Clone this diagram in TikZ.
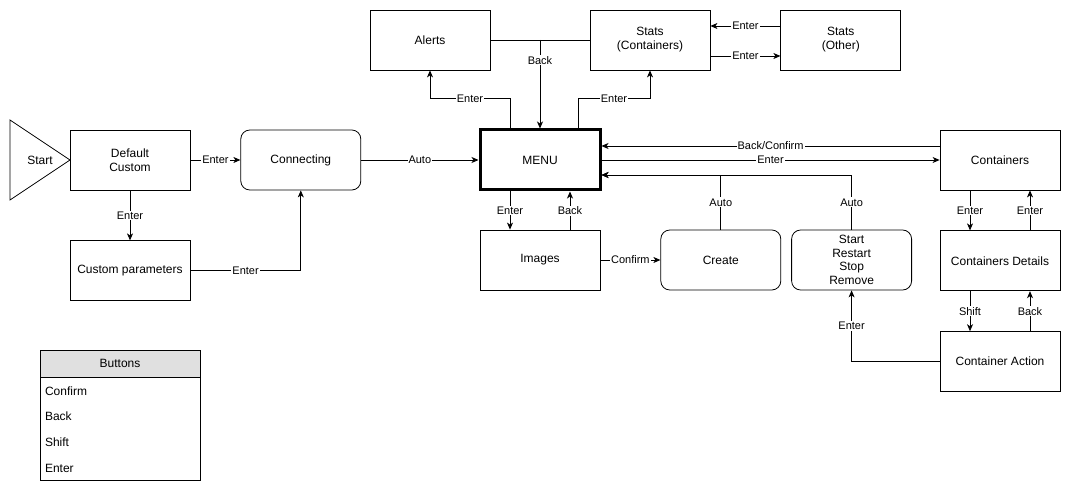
\documentclass[tikz,border=0pt]{standalone}
\usepackage{fontspec}
\setmainfont{Liberation Sans}
\usetikzlibrary{positioning,arrows.meta,calc}

\definecolor{headgray}{HTML}{E0E0E0}

\begin{document}
\begin{tikzpicture}[
    x=1pt, y=-1pt,
    node distance=50pt,
    every node/.style={font=\fontsize{12}{14}\selectfont},
    state/.style={rectangle, draw, line width=0.8pt, minimum width=120pt, minimum height=60pt, align=center, inner sep=2pt},
    rstate/.style={state, rounded corners=9pt},
    menustate/.style={state, line width=3pt},
    lbl/.style={fill=white, inner sep=1pt, font=\fontsize{11}{12}\selectfont},
    link/.style={-{Stealth[length=7pt,width=6pt,inset=2pt]}, line width=0.8pt}
]
\useasboundingbox (0,0) rectangle (1071,494);

% start and login
\draw[line width=0.8pt] (10,120) -- (70,160) -- (10,200) -- cycle;
\node (start) at (40,160) {Start};
\node[state] (dflt) at (130,160) {Default\\Custom};
\node[rstate, right=of dflt] (connect) {Connecting};
\node[state, below=of dflt] (params) {Custom parameters};

% menu and top row
\node[menustate] (menu) at (540,160) {MENU};
\node[state] (alerts) at (430,40) {Alerts};
\node[state] (statsc) at (650,40) {Stats\\(Containers)};
\node[state, right=70pt of statsc] (statso) {Stats\\(Other)};
\coordinate (backjoin) at (540,40);

% bottom row
\node[state] (images) at (540,260) {Images};
\node[rstate, right=60pt of images] (create) {Create};
\node[rstate, right=10pt of create, font=\fontsize{12}{13.5}\selectfont] (srsr) {Start\\Restart\\Stop\\Remove};

% containers column
\node[state] (containers) at (1000,160) {Containers};
\node[state, below=40pt of containers] (details) {Containers Details};
\node[state, below=40pt of details] (caction) {Container Action};

% legend
\node[draw, fill=headgray, line width=0.8pt, minimum width=160pt, minimum height=27pt, inner sep=0pt] (btnhead) at (120,363.5) {Buttons};
\node[draw, line width=0.8pt, below=0pt of btnhead, minimum height=103pt, text width=150pt, inner xsep=5pt, align=left,
      font=\fontsize{12}{25.7}\selectfont] (btnbody) {Confirm\\Back\\Shift\\Enter};

% connectors
\draw[link] (dflt) -- node[lbl]{Enter} (connect);
\draw[link] (dflt) -- node[lbl]{Enter} (params);
\draw[link] (params) -| node[lbl, pos=0.25]{Enter} (connect);
\draw[link] (connect) -- node[lbl]{Auto} (menu);

\draw[link] ([xshift=-30pt]menu.north) -- ++(0,-30) -| node[lbl, pos=0.25]{Enter} (alerts);
\draw[link] ([xshift=38pt]menu.north) -- ++(0,-30) -| node[lbl, pos=0.25]{Enter} (statsc);
\draw[line width=0.8pt] (alerts) -- (statsc);
\draw[link] (backjoin) -- node[lbl, pos=0.23]{Back} (menu);

\draw[link] ([yshift=14pt]statso.west) -- node[lbl]{Enter} ([yshift=14pt]statsc.east);
\draw[link] ([yshift=-16pt]statsc.east) -- node[lbl]{Enter} ([yshift=-16pt]statso.west);

\draw[link] ([yshift=14pt]containers.west) -- node[lbl]{Back/Confirm} ([yshift=14pt]menu.east);
\draw[link] (menu) -- node[lbl]{Enter} (containers);
\draw[link] (create) |- node[lbl, pos=0.25]{Auto} ([yshift=-15pt]menu.east);
\draw[link] (srsr) |- node[lbl, pos=0.25]{Auto} ([yshift=-15pt]menu.east);

\draw[link] ([xshift=-30pt]menu.south) -- node[lbl]{Enter} ([xshift=-30pt]images.north);
\draw[link] ([xshift=30pt]images.north) -- node[lbl]{Back} ([xshift=30pt]menu.south);
\draw[link] (images) -- node[lbl]{Confirm} (create);

\draw[link] ([xshift=-30pt]containers.south) -- node[lbl]{Enter} ([xshift=-30pt]details.north);
\draw[link] ([xshift=30pt]details.north) -- node[lbl]{Enter} ([xshift=30pt]containers.south);
\draw[link] ([xshift=-30pt]details.south) -- node[lbl]{Shift} ([xshift=-30pt]caction.north);
\draw[link] ([xshift=30pt]caction.north) -- node[lbl]{Back} ([xshift=30pt]details.south);
\draw[link] (caction) -| node[lbl, pos=0.75]{Enter} (srsr);

\end{tikzpicture}
\end{document}
